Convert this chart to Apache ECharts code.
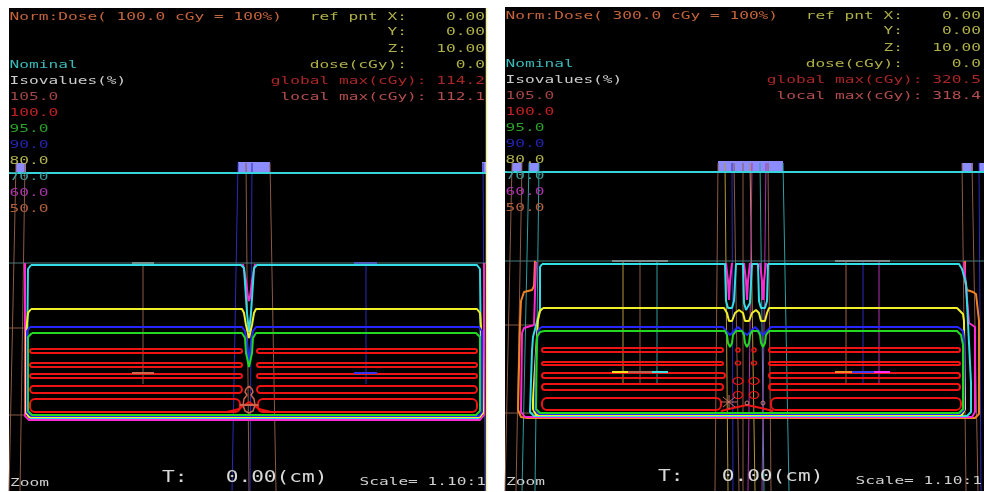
<!DOCTYPE html>
<html>
<head>
<meta charset="utf-8">
<script src="https://cdn.jsdelivr.net/npm/echarts@6/dist/echarts.min.js"></script>
<style>
  html, body { margin: 0; padding: 0; background: #ffffff; }
  #c { width: 984px; height: 492px; }
</style>
</head>
<body>
<div id="c"></div>
<script>
// ---------------------------------------------------------------
// Isodose views of two plans: coordinates in mm,
// x measured from the field junction, y = depth below the surface.
// ---------------------------------------------------------------

// ---- header / legend text ----
const normTextA = 'Norm:Dose( 100.0 cGy = 100%)';
const normTextB = 'Norm:Dose( 300.0 cGy = 100%)';
const refLabels = ['ref pnt X:', 'Y:', 'Z:', 'dose(cGy):'];
const refValues = ['0.00', '0.00', '10.00', '0.0'];
const globalMax = ['114.2', '320.5'];
const localMax = ['112.1', '318.4'];
const isoLevels = ['105.0', '100.0', '95.0', '90.0', '80.0', '70.0', '60.0', '50.0'];
const footT = 'T:   0.00(cm)';
const footScale = 'Scale= 1.10:1';

// ---- plan A (100 cGy): isodose lines ----
const a60 = [[-224,0],[-224,153],[-220,157],[231,157],[235,152],[235,0]];
const a60dip = [[-6,1],[-3,18],[-1,34],[0,38],[1,34],[3,18],[6,1]];
const a70 = [[-218,2],[-8,2],[-5,5],[-4,20],[-2,50],[0,69],[2,50],[4,20],[5,5],[8,2],[228,2],[231,6],[232,100],[233,150],[230,155],[-219,155],[-222,151],[-222,100],[-221,6],[-218,2]];
const a80 = [[-218,46],[-7,46],[-5,50],[-3,62],[0,75],[3,62],[5,50],[7,46],[228,46],[231,50],[233,80],[234,150],[231,154],[-220,154],[-223,150],[-223,70],[-221,50],[-218,46]];
const a90 = [[-219,64],[-7,64],[-4,68],[-2,80],[0,99],[2,80],[4,68],[7,64],[230,64],[233,68],[233,149],[230,153],[-218,153],[-222,149],[-222,68],[-219,64]];
const a95 = [[-217,70],[-7,70],[-4,75],[-3,90],[0,104],[3,90],[4,75],[7,70],[227,70],[231,74],[231,148],[227,152],[-217,152],[-221,148],[-221,74],[-217,70]];
// 100% islands: [xFrom, xTo, depthTop, depthBottom]
const a100 = [[-219,-7,86,90],[8,228,86,90],[-219,-7,100,104],[8,228,100,104],[-219,-7,111,115],[8,228,111,115],
              [-219,-7,123,130],[8,228,123,130],[-219,-9,136,149],[9,228,136,149]];
const a100v = [[-22,149],[-10,146],[-3,141],[0,139],[3,141],[10,146],[22,149]];
const aHot = [[0,123],[-3,126],[-4,129],[-2,132],[-5,136],[-6,142],[-4,148],[0,150],[4,148],[6,142],[5,136],[2,132],[4,129],[3,126],[0,123]];

// ---- plan A: beam apertures and beam edges ----
const aApertures = [[-233,-223,-100,-90],[-11,21,-101,-90],[233,238,-101,-90]];
const aEdgesBrown = [[-233,-100,-240,228],[-224,-100,-229,228],[-3,-100,0,228],[21,-100,27,228],[-106,0,-106,121],
                     [-240,65,-224,65],[-240,152,-224,152]];
const aEdgesBlue = [[-11,-100,-17,228],[3,-100,1,228],[234,-100,236,228],[117,0,117,121]];
const aCrossSalmon = [[-117,110,-95,110],[-9,142,9,142]];
const aCrossBlue = [[105,110,128,110]];
const aMarkGrey = [[-117,0,-95,0]];
const aMarkBlue = [[105,0,128,0]];
const aFrame = [[237.5,-255,237.5,228]];

// ---- plan B (300 cGy): isodose lines ----
const b50 = [[-212,0],[-213,25],[-215,29],[-223,31],[-226,40],[-227,62],[-229,149],[-226,156],[-220,157],[228,157],[232,153],[232,60],[229,33],[226,31],[220,29],[218,20],[218,0]];
const b60 = [[-211,1],[-213,64],[-223,67],[-225,72],[-226,151],[-222,156],[225,156],[228,151],[228,66],[222,62],[217,1]];
const b60dips = [
  [[-21,2],[-19,20],[-18,39],[-17,20],[-15,2]],
  [[-3,2],[-1,20],[0,39],[1,20],[3,2]],
  [[13,2],[15,20],[16,39],[17,20],[19,2]]
];
const b70 = [[-205,3],[-22,3],[-21,40],[-19,47],[-17,49],[-15,47],[-13,40],[-11,3],[-4,3],[-3,42],[-1,49],[0,51],[1,49],[3,42],[5,3],
             [11,3],[12,40],[14,47],[16,49],[18,47],[20,40],[21,3],[212,3],[215,8],[219,22],[224,122],[224,151],[220,155],
             [-213,155],[-217,151],[-216,120],[-215,90],[-214,76],[-207,49],[-207,6],[-205,3]];
const b80 = [[-204,47],[-23,47],[-20,52],[-18,60],[-17,62],[-15,60],[-12,52],[-8,49],[-4,52],[-2,60],[0,62],[2,60],[5,52],[9,49],
             [12,52],[14,60],[16,62],[18,60],[20,52],[22,47],[210,47],[216,53],[217,60],[218,148],[215,154],[-211,154],[-214,148],
             [-214,139],[-209,59],[-207,50],[-204,47]];
const b90 = [[-206,66],[-24,66],[-21,70],[-17,74],[-13,70],[-9,66],[-5,70],[0,74],[4,70],[8,66],[12,70],[16,74],[20,70],[24,66],
             [211,66],[216,70],[217,78],[217,149],[213,153],[-208,153],[-212,149],[-211,100],[-209,70],[-206,66]];
const b95 = [[-203,70],[-22,70],[-20,74],[-19,82],[-17,86],[-15,82],[-14,74],[-11,70],[-5,70],[-3,74],[-2,82],[0,86],[2,82],[3,74],
             [5,70],[11,70],[13,74],[14,82],[16,86],[18,82],[19,74],[22,70],[210,70],[214,74],[216,84],[216,148],[212,152],
             [-207,152],[-211,148],[-210,76],[-207,71],[-203,70]];
const b100 = [[-205,-24,87,91],[22,213,87,91],[-205,-24,101,104],[22,213,101,104],[-205,-22,112,117],[22,213,112,117],
              [-205,-24,123,129],[22,213,123,129],[-205,-26,137,149],[24,214,137,149]];
// small 100% islands between the junctions: [cx, cy, rx, ry]
const b100islands = [[-9,89,2,2],[7,89,2,2],[-9,102,2.5,2],[7,102,2.5,2],[-9,120,5,3.5],[7,120,5,3.5],[-9,134,4.5,3.5],[7,134,4.5,3.5]];
const b100v = [[-26,150],[-14,147],[0,144],[14,147],[26,150]];
const bHotSpots = [[0,142,2,2],[16,142,2,2]];
const bHotStar = [[-26,141,-10,141],[-18,134,-18,148],[-24,136,-12,146],[-24,146,-12,136]];

// ---- plan B: beam apertures and beam edges ----
const bApertures = [[-235,-225,-98,-89],[-218,-208,-98,-89],[-29,36,-100,-89],[215,226,-98,-89],[232,237,-98,-89]];
const bEdgesBrown = [[-235,-98,-242,230],[-225,-98,-231,230],[-29,-98,-32,230],[-13,-98,-8,230],[-4,-98,-4,230],[21,-98,24,230],
                     [215,-98,219,230],[225,-98,231,230],[-107,0,-107,122],[-242,64,-212,64],[-242,152,-207,152]];
const bEdgesTeal = [[-218,-98,-225,230],[-208,-98,-212,230],[13,-98,17,230],[36,-98,42,230],[-90,0,-90,122]];
const bEdgesBlue = [[-15,-98,-14,230],[232,-98,234,230],[116,0,116,122]];
const bEdgesYellow = [[-22,-98,-19,230],[3,-98,8,230],[-124,0,-124,122]];
const bEdgesMagenta = [[5,-98,1,230],[19,-98,15,230],[132,0,132,122]];
const bEdgesOrange = [[99,0,99,122]];
const bCrossYellow = [[-135,111,-119,111]];
const bCrossSalmon = [[-119,111,-95,111]];
const bCrossCyan = [[-95,111,-79,111]];
const bCrossOrange = [[88,111,105,111]];
const bCrossBlue = [[105,111,127,111]];
const bCrossMagenta = [[127,111,143,111]];
const bMarks = [[-135,0,-119,0],[-119,0,-95,0],[-95,0,-79,0],[88,0,105,0],[105,0,127,0],[127,0,143,0]];

// ---- colours ----
const C = {
  iso105: '#963c3c', iso100: '#ee1414', iso95: '#22d822', iso90: '#2626ff', iso80: '#f0f028',
  iso70: '#34dce6', iso60: '#ff28d2', iso50: '#f08224',
  nominal: '#36d4dc', surface: '#4a7a7a', aperture: '#8c8cff',
  brown: '#8a5a46', blue: '#2a2ab8', teal: '#2e9ea0', yellow: '#b4963a', magenta: '#b432b4', orange: '#a0603c'
};

const chart = echarts.init(document.getElementById('c'), null, { renderer: 'canvas' });
const series = [];

function poly(g, pts, color, width, z) {
  series.push({
    type: 'line', xAxisIndex: g, yAxisIndex: g, data: pts, symbol: 'none', showSymbol: false,
    lineStyle: { color: color, width: width }, silent: true, animation: false, z: z
  });
}
function segs(g, list, color, width, z) {
  series.push({
    type: 'custom', xAxisIndex: g, yAxisIndex: g, data: list, silent: true, animation: false, z: z,
    renderItem: function (p, api) {
      const a = api.coord([api.value(0), api.value(1)]);
      const b = api.coord([api.value(2), api.value(3)]);
      return { type: 'line', shape: { x1: a[0], y1: a[1], x2: b[0], y2: b[1] },
               style: { stroke: color, lineWidth: width } };
    }
  });
}
function boxes(g, list, fill, z) {
  series.push({
    type: 'custom', xAxisIndex: g, yAxisIndex: g, data: list, silent: true, animation: false, z: z,
    renderItem: function (p, api) {
      const a = api.coord([api.value(0), api.value(2)]);
      const b = api.coord([api.value(1), api.value(3)]);
      return { type: 'rect', shape: { x: Math.min(a[0], b[0]), y: Math.min(a[1], b[1]),
               width: Math.abs(b[0] - a[0]), height: Math.abs(b[1] - a[1]) }, style: { fill: fill } };
    }
  });
}
function islands(g, list, color, width, z) {
  series.push({
    type: 'custom', xAxisIndex: g, yAxisIndex: g, data: list, silent: true, animation: false, z: z,
    renderItem: function (p, api) {
      const a = api.coord([api.value(0), api.value(2)]);
      const b = api.coord([api.value(1), api.value(3)]);
      const h = Math.abs(b[1] - a[1]);
      return { type: 'rect', shape: { x: Math.min(a[0], b[0]), y: Math.min(a[1], b[1]),
               width: Math.abs(b[0] - a[0]), height: h, r: Math.min(h / 2, 5) },
               style: { fill: 'none', stroke: color, lineWidth: width } };
    }
  });
}
function ovals(g, list, color, width, z) {
  series.push({
    type: 'custom', xAxisIndex: g, yAxisIndex: g, data: list, silent: true, animation: false, z: z,
    renderItem: function (p, api) {
      const c = api.coord([api.value(0), api.value(1)]);
      const s = api.size([api.value(2), api.value(3)]);
      return { type: 'circle', x: c[0], y: c[1], scaleY: s[1] / s[0], shape: { cx: 0, cy: 0, r: s[0] },
               style: { fill: 'none', stroke: color, lineWidth: width } };
    }
  });
}

// ---- plan A ----
boxes(0, aApertures, C.aperture, 1);
segs(0, aEdgesBrown, C.brown, 1, 2);
segs(0, aEdgesBlue, C.blue, 1, 2);
poly(0, [[-240,-90],[238,-90]], C.nominal, 2, 3);
poly(0, [[-240,0],[238,0]], C.surface, 1, 3);
poly(0, a60, C.iso60, 2, 4);
poly(0, a60dip, C.iso60, 2, 4);
poly(0, a70, C.iso70, 2, 5);
poly(0, a80, C.iso80, 2, 5);
poly(0, a90, C.iso90, 2, 5);
poly(0, a95, C.iso95, 2, 6);
islands(0, a100, C.iso100, 2, 6);
poly(0, a100v, C.iso100, 2, 6);
poly(0, aHot, '#c8644e', 1.5, 7);
segs(0, aCrossSalmon, '#d0644a', 2, 7);
segs(0, aCrossBlue, '#3434ee', 2, 7);
segs(0, aMarkGrey, '#6a8c8c', 2, 7);
segs(0, aMarkBlue, '#4a5ab4', 2, 7);
segs(0, aFrame, '#f2eea0', 1.5, 8);

// ---- plan B ----
boxes(1, bApertures, C.aperture, 1);
segs(1, bEdgesBrown, C.brown, 1, 2);
segs(1, bEdgesTeal, C.teal, 1, 2);
segs(1, bEdgesBlue, C.blue, 1, 2);
segs(1, bEdgesYellow, C.yellow, 1, 2);
segs(1, bEdgesMagenta, C.magenta, 1, 2);
segs(1, bEdgesOrange, C.orange, 1, 2);
poly(1, [[-242,-89],[237,-89]], C.nominal, 2, 3);
poly(1, [[-242,0],[237,0]], C.surface, 1, 3);
poly(1, b50, C.iso50, 2, 4);
poly(1, b60, C.iso60, 2, 4);
b60dips.forEach(function (d) { poly(1, d, C.iso60, 2, 4); });
poly(1, b70, C.iso70, 2, 5);
poly(1, b80, C.iso80, 2, 5);
poly(1, b90, C.iso90, 2, 5);
poly(1, b95, C.iso95, 2, 6);
islands(1, b100, C.iso100, 2, 6);
ovals(1, b100islands, C.iso100, 1.5, 6);
poly(1, b100v, C.iso100, 2, 6);
ovals(1, bHotSpots, '#c87878', 1, 7);
segs(1, bHotStar, '#c87060', 1, 7);
segs(1, bCrossYellow, '#f0e020', 2, 7);
segs(1, bCrossSalmon, '#b46450', 2, 7);
segs(1, bCrossCyan, '#40e0e0', 2, 7);
segs(1, bCrossOrange, '#f08a28', 2, 7);
segs(1, bCrossBlue, '#3c3cf0', 2, 7);
segs(1, bCrossMagenta, '#ff30ff', 2, 7);
segs(1, bMarks, '#7a8a8a', 2, 7);

// ---- text overlay ----
const FONT = '"DejaVu Sans Mono", monospace';
const texts = [];
function txt(x, y, s, fill, align, size, sx) {
  texts.push({
    type: 'text', x: x, y: y, scaleX: sx, z: 100, silent: true,
    style: { text: s, fill: fill, font: size + 'px ' + FONT, align: align, textAlign: align,
             verticalAlign: 'middle', textVerticalAlign: 'middle' }
  });
}
const rowY = [9, 24.5, 41, 57, 73, 89.5, 105, 121, 137, 153, 169.5, 185, 201];
const isoTextColors = ['#a04646', '#c02020', '#2ca02c', '#2424b0', '#b0b050', '#3c9c9c', '#a834a8', '#b0603e'];
const khaki = '#b0b04a';
function header(ox, oy, normText, gmax, lmax) {
  const S = 10.5, SX = 1.54, R1 = ox + 398, R2 = ox + 476, L = ox + 0.5;
  txt(L, oy + rowY[0], normText, '#c4643a', 'left', S, SX);
  txt(R1, oy + rowY[0], refLabels[0], khaki, 'right', S, SX);
  txt(R1, oy + rowY[1], refLabels[1], khaki, 'right', S, SX);
  txt(R1, oy + rowY[2], refLabels[2], khaki, 'right', S, SX);
  txt(R1, oy + rowY[3], refLabels[3], khaki, 'right', S, SX);
  for (let i = 0; i < 4; i++) txt(R2, oy + rowY[i], refValues[i], khaki, 'right', S, SX);
  txt(L, oy + rowY[3], 'Nominal', '#3cb8b8', 'left', S, SX);
  txt(L, oy + rowY[4], 'Isovalues(%)', '#cccccc', 'left', S, SX);
  txt(R2, oy + rowY[4], 'global max(cGy): ' + gmax, '#aa2626', 'right', S, SX);
  txt(R2, oy + rowY[5], 'local max(cGy): ' + lmax, '#b44e4e', 'right', S, SX);
  isoLevels.forEach(function (v, i) { txt(L, oy + rowY[5 + i], v, isoTextColors[i], 'left', S, SX); });
  txt(ox + 1, oy + 475, 'Zoom', '#d0d0d0', 'left', S, SX);
  txt(ox + 153, oy + 470.5, footT, '#d8d8d8', 'left', 15, 1.41);
  txt(ox + 477, oy + 474, footScale, '#d0d0d0', 'right', S, SX);
}
header(9, 8, normTextA, globalMax[0], localMax[0]);
header(505, 7, normTextB, globalMax[1], localMax[1]);

chart.setOption({
  backgroundColor: '#ffffff',
  animation: false,
  grid: [
    { left: 9, top: 8, width: 478, height: 483, show: true, backgroundColor: '#000000', borderWidth: 0 },
    { left: 505, top: 7, width: 479, height: 484, show: true, backgroundColor: '#000000', borderWidth: 0 }
  ],
  xAxis: [
    { gridIndex: 0, type: 'value', min: -240, max: 238, show: false },
    { gridIndex: 1, type: 'value', min: -242, max: 237, show: false }
  ],
  yAxis: [
    { gridIndex: 0, type: 'value', min: -255, max: 228, inverse: true, show: false },
    { gridIndex: 1, type: 'value', min: -254, max: 230, inverse: true, show: false }
  ],
  series: series,
  graphic: { elements: texts }
});
</script>
</body>
</html>
